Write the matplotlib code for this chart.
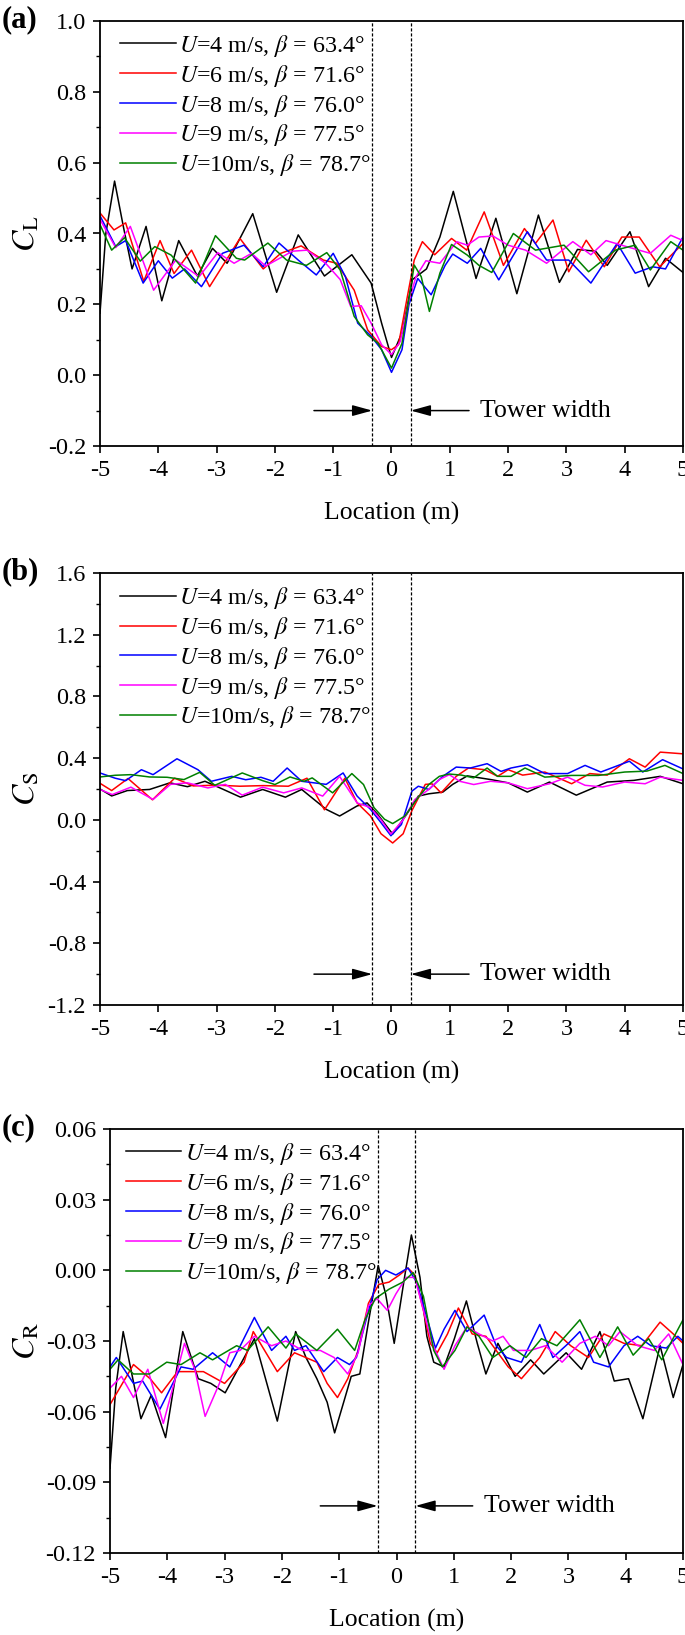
import matplotlib
matplotlib.use("Agg")
import matplotlib.pyplot as plt
from matplotlib.ticker import AutoMinorLocator, FormatStrFormatter, MultipleLocator

plt.rcParams['font.family'] = ['Liberation Serif', 'DejaVu Serif']
plt.rcParams['mathtext.fontset'] = 'stix'
plt.rcParams['axes.unicode_minus'] = False

labels = [r"$U$=4 m/s, $\beta$ = 63.4°", r"$U$=6 m/s, $\beta$ = 71.6°",
          r"$U$=8 m/s, $\beta$ = 76.0°", r"$U$=9 m/s, $\beta$ = 77.5°",
          r"$U$=10m/s, $\beta$ = 78.7°"]
colors = ['#000000', '#FF0000', '#0000FF', '#FF00FF', '#008000']

# ---------------- Panel (a): C_L ----------------
a_x_u4 = [-5.0, -4.9, -4.75, -4.6, -4.45, -4.21, -3.94, -3.65, -3.33, -3.07, -2.82, -2.38, -1.97, -1.6, -1.15, -0.68, -0.35, -0.17, 0.0, 0.18, 0.36, 0.6, 0.83, 1.06, 1.45, 1.79, 2.15, 2.52, 2.88, 3.19, 3.5, 3.7, 4.09, 4.41, 4.7, 5.0]
a_y_u4 = [0.175, 0.40, 0.548, 0.42, 0.30, 0.42, 0.21, 0.38, 0.28, 0.358, 0.316, 0.456, 0.234, 0.396, 0.28, 0.34, 0.26, 0.147, 0.05, 0.12, 0.27, 0.30, 0.39, 0.519, 0.273, 0.443, 0.23, 0.452, 0.262, 0.355, 0.35, 0.31, 0.405, 0.25, 0.33, 0.29]
a_x_u6 = [-5.0, -4.76, -4.56, -4.25, -3.97, -3.73, -3.43, -3.12, -2.6, -2.2, -1.9, -1.55, -1.17, -0.94, -0.64, -0.41, -0.17, 0.0, 0.12, 0.27, 0.39, 0.53, 0.74, 1.03, 1.29, 1.59, 1.92, 2.28, 2.47, 2.77, 3.04, 3.34, 3.65, 3.95, 4.25, 4.6, 5.0]
a_y_u6 = [0.458, 0.41, 0.43, 0.265, 0.38, 0.287, 0.353, 0.25, 0.386, 0.30, 0.344, 0.365, 0.325, 0.316, 0.24, 0.128, 0.081, 0.072, 0.086, 0.22, 0.325, 0.377, 0.34, 0.386, 0.353, 0.461, 0.31, 0.414, 0.372, 0.438, 0.292, 0.381, 0.306, 0.39, 0.39, 0.306, 0.372]
a_x_u8 = [-5.0, -4.73, -4.56, -4.26, -4.0, -3.76, -3.55, -3.26, -2.9, -2.53, -2.2, -1.93, -1.6, -1.29, -1.0, -0.79, -0.58, -0.35, -0.17, 0.0, 0.18, 0.3, 0.45, 0.68, 0.92, 1.05, 1.3, 1.53, 1.84, 2.33, 2.66, 3.04, 3.42, 3.87, 4.18, 4.48, 4.7, 5.0]
a_y_u8 = [0.45, 0.363, 0.38, 0.26, 0.323, 0.274, 0.30, 0.25, 0.344, 0.367, 0.306, 0.373, 0.325, 0.283, 0.344, 0.278, 0.147, 0.11, 0.072, 0.008, 0.072, 0.2, 0.273, 0.227, 0.31, 0.342, 0.316, 0.358, 0.269, 0.405, 0.325, 0.325, 0.26, 0.372, 0.288, 0.306, 0.30, 0.39]
a_x_u9 = [-5.0, -4.73, -4.48, -4.08, -3.7, -3.3, -2.98, -2.7, -2.4, -2.16, -1.7, -1.45, -1.13, -0.88, -0.7, -0.52, -0.35, -0.17, 0.0, 0.15, 0.3, 0.42, 0.59, 0.83, 1.12, 1.3, 1.5, 1.74, 2.0, 2.3, 2.66, 3.11, 3.42, 3.68, 4.03, 4.44, 4.79, 5.0]
a_y_u9 = [0.44, 0.36, 0.42, 0.24, 0.325, 0.278, 0.346, 0.316, 0.344, 0.308, 0.35, 0.353, 0.316, 0.27, 0.194, 0.196, 0.147, 0.086, 0.058, 0.095, 0.21, 0.278, 0.323, 0.316, 0.377, 0.367, 0.39, 0.393, 0.367, 0.353, 0.316, 0.377, 0.34, 0.38, 0.363, 0.344, 0.395, 0.38]
a_x_u10 = [-5.0, -4.8, -4.58, -4.31, -4.06, -3.78, -3.36, -3.02, -2.66, -2.52, -2.12, -1.8, -1.46, -1.11, -0.88, -0.64, -0.41, -0.23, 0.0, 0.18, 0.39, 0.51, 0.65, 0.83, 1.03, 1.3, 1.5, 1.72, 2.09, 2.47, 2.96, 3.38, 3.84, 4.18, 4.44, 4.79, 5.0]
a_y_u10 = [0.425, 0.353, 0.388, 0.322, 0.363, 0.339, 0.26, 0.394, 0.33, 0.325, 0.373, 0.325, 0.31, 0.346, 0.297, 0.166, 0.114, 0.09, 0.02, 0.09, 0.311, 0.278, 0.18, 0.288, 0.369, 0.339, 0.31, 0.29, 0.40, 0.353, 0.367, 0.292, 0.353, 0.367, 0.297, 0.377, 0.353]

# ---------------- Panel (b): C_S ----------------
b_x_u4 = [-5.0, -4.8, -4.53, -4.15, -3.8, -3.5, -3.2, -2.9, -2.59, -2.21, -1.82, -1.54, -1.12, -0.89, -0.59, -0.42, -0.24, 0.02, 0.26, 0.46, 0.64, 0.88, 1.05, 1.3, 1.72, 2.0, 2.33, 2.71, 3.17, 3.7, 4.16, 4.61, 5.0]
b_y_u4 = [0.20, 0.155, 0.19, 0.197, 0.24, 0.215, 0.25, 0.20, 0.147, 0.197, 0.147, 0.197, 0.068, 0.025, 0.09, 0.11, 0.036, -0.092, 0.036, 0.154, 0.169, 0.18, 0.23, 0.285, 0.26, 0.24, 0.18, 0.245, 0.16, 0.245, 0.256, 0.282, 0.234]
b_x_u6 = [-5.0, -4.8, -4.52, -4.1, -3.72, -3.4, -3.0, -2.6, -2.2, -1.77, -1.45, -1.15, -0.8, -0.59, -0.36, -0.18, 0.02, 0.2, 0.35, 0.58, 0.7, 0.85, 1.11, 1.32, 1.6, 1.82, 2.0, 2.25, 2.63, 3.09, 3.4, 3.7, 4.08, 4.35, 4.61, 5.0]
b_y_u6 = [0.237, 0.19, 0.268, 0.13, 0.27, 0.22, 0.225, 0.218, 0.222, 0.218, 0.27, 0.065, 0.27, 0.11, 0.025, -0.09, -0.15, -0.09, 0.06, 0.23, 0.233, 0.175, 0.282, 0.336, 0.325, 0.282, 0.325, 0.29, 0.31, 0.234, 0.30, 0.29, 0.396, 0.342, 0.439, 0.428]
b_x_u8 = [-5.0, -4.74, -4.56, -4.29, -4.09, -3.68, -3.32, -3.09, -2.74, -2.5, -2.24, -2.03, -1.79, -1.54, -1.12, -0.83, -0.59, -0.36, -0.18, -0.01, 0.17, 0.35, 0.46, 0.64, 0.88, 1.11, 1.35, 1.64, 1.88, 2.05, 2.33, 2.63, 3.02, 3.32, 3.59, 4.08, 4.31, 4.65, 5.0]
b_y_u8 = [0.304, 0.27, 0.254, 0.325, 0.293, 0.396, 0.325, 0.25, 0.282, 0.26, 0.276, 0.25, 0.336, 0.25, 0.23, 0.304, 0.154, 0.068, -0.018, -0.103, -0.03, 0.186, 0.218, 0.197, 0.282, 0.342, 0.336, 0.364, 0.314, 0.336, 0.357, 0.30, 0.30, 0.353, 0.31, 0.38, 0.31, 0.39, 0.33]
b_x_u9 = [-5.0, -4.79, -4.47, -4.09, -3.79, -3.5, -3.15, -2.85, -2.56, -2.21, -1.85, -1.54, -1.18, -0.89, -0.59, -0.36, -0.18, -0.01, 0.2, 0.4, 0.64, 0.82, 0.99, 1.17, 1.41, 1.7, 2.0, 2.33, 2.71, 3.02, 3.32, 3.62, 4.0, 4.35, 4.61, 5.0]
b_y_u9 = [0.197, 0.164, 0.212, 0.132, 0.23, 0.24, 0.207, 0.23, 0.16, 0.212, 0.175, 0.207, 0.154, 0.282, 0.11, 0.079, 0.0, -0.092, 0.0, 0.132, 0.197, 0.261, 0.293, 0.25, 0.229, 0.25, 0.24, 0.202, 0.234, 0.277, 0.224, 0.213, 0.245, 0.234, 0.277, 0.256]
b_x_u10 = [-5.0, -4.74, -4.47, -4.15, -3.85, -3.56, -3.29, -3.03, -2.56, -2.21, -2.0, -1.74, -1.5, -1.36, -1.01, -0.68, -0.48, -0.3, -0.12, 0.02, 0.23, 0.43, 0.64, 0.82, 0.99, 1.2, 1.41, 1.64, 1.82, 2.05, 2.29, 2.63, 3.09, 3.55, 4.0, 4.38, 4.69, 5.0]
b_y_u10 = [0.278, 0.289, 0.293, 0.278, 0.276, 0.261, 0.308, 0.224, 0.304, 0.254, 0.229, 0.278, 0.25, 0.272, 0.175, 0.30, 0.229, 0.079, 0.004, -0.024, 0.025, 0.132, 0.229, 0.282, 0.297, 0.29, 0.272, 0.336, 0.282, 0.282, 0.336, 0.277, 0.288, 0.288, 0.31, 0.316, 0.353, 0.30]

# ---------------- Panel (c): C_R ----------------
c_x_u4 = [-5.0, -4.9, -4.77, -4.46, -4.28, -4.03, -3.73, -3.46, -3.24, -2.99, -2.48, -2.08, -1.76, -1.58, -1.39, -1.21, -1.08, -0.91, -0.79, -0.64, -0.49, -0.32, -0.19, -0.04, 0.14, 0.26, 0.41, 0.53, 0.65, 0.83, 1.01, 1.22, 1.41, 1.56, 1.77, 2.07, 2.34, 2.57, 2.96, 3.23, 3.55, 3.8, 4.05, 4.3, 4.6, 4.83, 5.0]
c_y_u4 = [-0.084, -0.05, -0.026, -0.063, -0.053, -0.071, -0.026, -0.046, -0.048, -0.052, -0.029, -0.064, -0.026, -0.037, -0.046, -0.056, -0.069, -0.055, -0.045, -0.044, -0.022, 0.002, -0.01, -0.031, -0.003, 0.015, -0.003, -0.028, -0.039, -0.041, -0.029, -0.013, -0.031, -0.044, -0.031, -0.045, -0.038, -0.044, -0.035, -0.042, -0.026, -0.047, -0.046, -0.063, -0.032, -0.054, -0.04]
c_x_u6 = [-5.0, -4.59, -4.3, -4.1, -3.82, -3.37, -3.0, -2.66, -2.5, -2.08, -1.78, -1.39, -1.21, -1.03, -0.85, -0.67, -0.49, -0.31, -0.13, 0.05, 0.2, 0.32, 0.47, 0.59, 0.71, 0.89, 1.08, 1.32, 1.56, 1.74, 1.95, 2.18, 2.5, 2.77, 3.04, 3.35, 3.62, 3.97, 4.28, 4.6, 4.83, 5.0]
c_y_u6 = [-0.057, -0.04, -0.046, -0.052, -0.043, -0.043, -0.048, -0.039, -0.026, -0.043, -0.035, -0.039, -0.048, -0.054, -0.046, -0.034, -0.014, -0.006, -0.005, -0.002, 0.001, -0.002, -0.017, -0.031, -0.035, -0.027, -0.016, -0.027, -0.028, -0.034, -0.041, -0.046, -0.037, -0.026, -0.032, -0.037, -0.027, -0.031, -0.032, -0.022, -0.027, -0.031]
c_x_u8 = [-5.0, -4.89, -4.59, -4.43, -4.13, -3.76, -3.55, -3.21, -2.91, -2.48, -2.18, -1.93, -1.78, -1.58, -1.27, -1.03, -0.82, -0.7, -0.52, -0.34, -0.19, -0.01, 0.2, 0.35, 0.53, 0.68, 0.83, 1.02, 1.23, 1.53, 1.74, 1.92, 2.18, 2.5, 2.73, 3.0, 3.2, 3.44, 3.7, 3.97, 4.21, 4.44, 4.71, 4.91, 5.0]
c_y_u8 = [-0.041, -0.037, -0.048, -0.047, -0.059, -0.041, -0.042, -0.035, -0.041, -0.02, -0.034, -0.028, -0.034, -0.032, -0.043, -0.037, -0.04, -0.037, -0.02, -0.004, 0.0, -0.002, 0.001, -0.005, -0.02, -0.033, -0.025, -0.017, -0.026, -0.019, -0.032, -0.037, -0.039, -0.023, -0.037, -0.031, -0.026, -0.039, -0.041, -0.032, -0.028, -0.032, -0.033, -0.028, -0.03]
c_x_u9 = [-5.0, -4.8, -4.59, -4.34, -4.07, -3.85, -3.7, -3.52, -3.34, -3.09, -2.91, -2.73, -2.48, -2.18, -1.93, -1.64, -1.33, -1.09, -0.85, -0.67, -0.49, -0.34, -0.16, -0.01, 0.17, 0.32, 0.47, 0.62, 0.83, 1.02, 1.23, 1.44, 1.68, 1.86, 2.04, 2.34, 2.6, 2.89, 3.2, 3.47, 3.7, 3.9, 4.21, 4.5, 4.75, 5.0]
c_y_u9 = [-0.05, -0.045, -0.054, -0.042, -0.065, -0.045, -0.031, -0.042, -0.062, -0.048, -0.035, -0.034, -0.028, -0.032, -0.03, -0.034, -0.034, -0.037, -0.044, -0.035, -0.015, -0.012, -0.017, -0.01, -0.003, -0.003, -0.017, -0.031, -0.042, -0.032, -0.024, -0.027, -0.03, -0.028, -0.034, -0.034, -0.032, -0.039, -0.031, -0.028, -0.032, -0.026, -0.032, -0.034, -0.027, -0.04]
c_x_u10 = [-5.0, -4.86, -4.59, -4.31, -4.01, -3.76, -3.43, -3.21, -2.79, -2.6, -2.24, -1.93, -1.76, -1.39, -1.03, -0.73, -0.55, -0.37, -0.13, 0.11, 0.29, 0.47, 0.65, 0.8, 1.02, 1.23, 1.44, 1.68, 1.98, 2.26, 2.53, 2.8, 3.2, 3.55, 3.86, 4.13, 4.4, 4.63, 5.0]
c_y_u10 = [-0.042, -0.038, -0.044, -0.044, -0.039, -0.04, -0.035, -0.038, -0.032, -0.034, -0.024, -0.033, -0.027, -0.034, -0.025, -0.034, -0.021, -0.012, -0.008, -0.005, -0.001, -0.011, -0.034, -0.041, -0.034, -0.024, -0.028, -0.037, -0.032, -0.037, -0.029, -0.032, -0.021, -0.037, -0.024, -0.036, -0.029, -0.038, -0.021]

panels = [
    dict(tag='(a)', ylab=r'$C_\mathrm{L}$', ylim=(-0.2, 1.0), ystep=0.2, fmt='%.1f', arrow_y=-0.1,
         xs=[a_x_u4, a_x_u6, a_x_u8, a_x_u9, a_x_u10], ys=[a_y_u4, a_y_u6, a_y_u8, a_y_u9, a_y_u10],
         rect_px=(100, 21, 683, 446), leg_x=0.035),
    dict(tag='(b)', ylab=r'$C_\mathrm{S}$', ylim=(-1.2, 1.6), ystep=0.4, fmt='%.1f', arrow_y=-1.0,
         xs=[b_x_u4, b_x_u6, b_x_u8, b_x_u9, b_x_u10], ys=[b_y_u4, b_y_u6, b_y_u8, b_y_u9, b_y_u10],
         rect_px=(100, 573, 683, 1005), leg_x=0.035),
    dict(tag='(c)', ylab=r'$C_\mathrm{R}$', ylim=(-0.12, 0.06), ystep=0.03, fmt='%.2f', arrow_y=-0.1,
         xs=[c_x_u4, c_x_u6, c_x_u8, c_x_u9, c_x_u10], ys=[c_y_u4, c_y_u6, c_y_u8, c_y_u9, c_y_u10],
         rect_px=(110, 1129, 683, 1553), leg_x=0.028),
]

W, H = 685, 1635
fig = plt.figure(figsize=(W / 100, H / 100), dpi=100)
tower_half = 0.33

for p in panels:
    l, t, r, b = p['rect_px']
    ax = fig.add_axes([l / W, 1 - b / H, (r - l) / W, (b - t) / H])
    for xv, yv, c, lab in zip(p['xs'], p['ys'], colors, labels):
        ax.plot(xv, yv, color=c, lw=1.1, label=lab, solid_joinstyle='round')
    ax.set_xlim(-5, 5)
    ax.set_ylim(*p['ylim'])
    ax.xaxis.set_major_locator(MultipleLocator(1))
    ax.yaxis.set_major_locator(MultipleLocator(p['ystep']))
    ax.yaxis.set_minor_locator(AutoMinorLocator(2))
    ax.yaxis.set_major_formatter(FormatStrFormatter(p['fmt']))
    ax.tick_params(which='major', direction='out', length=5, width=1.2, labelsize=17.5, pad=5,
                   top=False, right=False)
    ax.tick_params(which='minor', direction='out', length=3, width=1.0, top=False, right=False)
    for s in ax.spines.values():
        s.set_linewidth(1.3)
    for xd in (-tower_half, tower_half):
        ax.axvline(xd, color='k', lw=0.9, ls=(0, (2.5, 1.5)))
    ax.annotate('', xy=(-tower_half, p['arrow_y']), xytext=(-1.33, p['arrow_y']),
                arrowprops=dict(arrowstyle='-|>,head_length=1.2,head_width=0.33', color='k', lw=1.1,
                                mutation_scale=10, shrinkA=0, shrinkB=0))
    ax.annotate('', xy=(tower_half, p['arrow_y']), xytext=(1.33, p['arrow_y']),
                arrowprops=dict(arrowstyle='-|>,head_length=1.2,head_width=0.33', color='k', lw=1.1,
                                mutation_scale=10, shrinkA=0, shrinkB=0))
    ax.text(1.52, p['arrow_y'], 'Tower width', fontsize=18.5, va='center', ha='left')
    ax.set_xlabel('Location (m)', fontsize=18.5, labelpad=15)
    ax.set_ylabel(p['ylab'], fontsize=23)
    ax.yaxis.set_label_coords(-(l - 42) / (r - l), 0.5)
    ax.legend(loc='upper left', bbox_to_anchor=(p['leg_x'], 0.972), frameon=False, fontsize=17.3,
              handlelength=2.3, handletextpad=0.15, labelspacing=0.16, borderpad=0, borderaxespad=0)
    fig.text(0.002, 1 - (t - 1) / H, p['tag'], fontsize=22, fontweight='bold', va='center', ha='left')

fig.savefig('out.png', dpi=100)
